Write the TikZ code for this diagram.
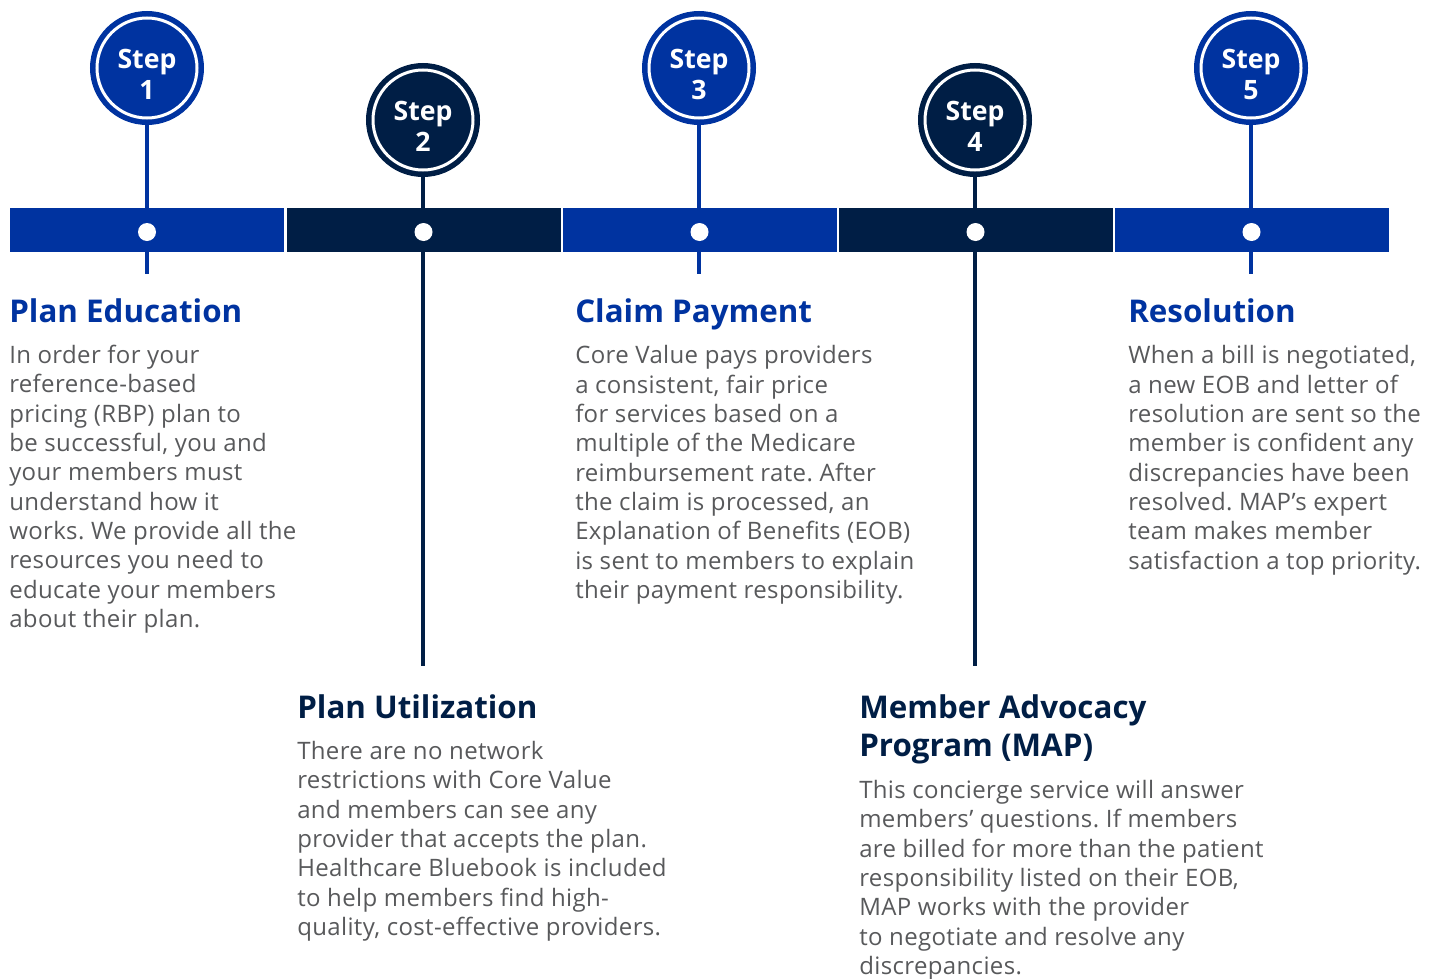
\documentclass[tikz,border=0pt]{standalone}
\usepackage{fontspec}
\setmainfont{Open Sans}
\newfontfamily\bodyfont{Open Sans}[LetterSpace=1.5]
\frenchspacing
\definecolor{coreblue}{HTML}{0033A0}
\definecolor{corenavy}{HTML}{001E45}
\definecolor{coregray}{HTML}{58595B}

\begin{document}
\begin{tikzpicture}[x=0.75pt, y=-0.75pt,
  badge/.style={circle, minimum size=75pt, inner sep=0pt, fill=#1, draw=white, line width=2.25pt,
    preaction={draw=#1, line width=10.5pt}, text=white, align=center,
    text height=47pt, text depth=0pt, font=\fontsize{20}{23.5}\selectfont\bfseries},
  stem/.style={draw=#1, line width=2.6pt},
  barpart/.style={rectangle, minimum width=205.5pt, minimum height=33pt, inner sep=0pt, fill=#1},
  dot/.style={circle, fill=white, minimum size=13.5pt, inner sep=0pt},
  title/.style={anchor=base west, inner sep=0pt, text=#1, align=left,
    font=\fontsize{23.5}{28.5}\selectfont\bfseries},
  body/.style={anchor=base west, inner sep=0pt, text=coregray, align=left,
    font=\bodyfont\fontsize{18}{22}\selectfont}]
  \useasboundingbox (0,0) rectangle (1434,978);

  \foreach \i/\x/\y/\len/\col in {1/147/68/274/coreblue, 2/423/120/666/corenavy,
      3/699/68/274/coreblue, 4/975/120/666/corenavy, 5/1251/68/274/coreblue} {
    \node[badge=\col] (s\i) at (\x,\y) {Step\\\i};
    \coordinate (e\i) at (\x,\len);
    \draw[stem=\col] (s\i) -- (e\i);
  }
  \foreach \i/\x/\col in {1/147/coreblue, 2/423.5/corenavy, 3/699.5/coreblue,
      4/975.5/corenavy, 5/1251.5/coreblue} {
    \node[barpart=\col] (p\i) at (\x,230) {};
    \node[dot] (d\i) at (\x,232) {};
  }

  % base anchors sit on the last line of each block
  \node[title=coreblue] (t1) at (9,322.5) {Plan Education};
  \node[body] (b1) at (9,627.5)
    {In order for your\\reference-based\\pricing (RBP) plan to\\be successful, you and\\your members must\\understand how it\\works. We provide all the\\resources you need to\\educate your members\\about their plan.};

  \node[title=corenavy] (t2) at (297,718) {Plan Utilization};
  \node[body] (b2) at (297,935.5)
    {There are no network\\restrictions with Core Value\\and members can see any\\provider that accepts the plan.\\Healthcare Bluebook is included\\to help members find high-\\quality, cost-effective providers.};

  \node[title=coreblue] (t3) at (575,322.5) {Claim Payment};
  \node[body] (b3) at (575,598.5)
    {Core Value pays providers\\a consistent, fair price\\for services based on a\\multiple of the Medicare\\reimbursement rate. After\\the claim is processed, an\\Explanation of Benefits (EOB)\\is sent to members to explain\\their payment responsibility.};

  \node[title=corenavy] (t4) at (859,756) {Member Advocacy\\Program (MAP)};
  \node[body] (b4) at (859,974.5)
    {This concierge service will answer\\members’ questions. If members\\are billed for more than the patient\\responsibility listed on their EOB,\\MAP works with the provider\\to negotiate and resolve any\\discrepancies.};

  \node[title=coreblue] (t5) at (1128,322.5) {Resolution};
  \node[body] (b5) at (1128,569)
    {When a bill is negotiated,\\a new EOB and letter of\\resolution are sent so the\\member is confident any\\discrepancies have been\\resolved. MAP’s expert\\team makes member\\satisfaction a top priority.};
\end{tikzpicture}
\end{document}
